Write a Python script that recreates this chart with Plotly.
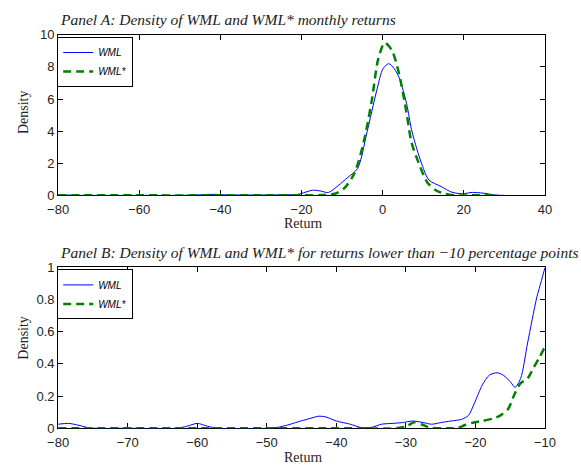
import plotly.graph_objects as go

# ---------------- Data ----------------
# Panel A: density of monthly returns
a_wml_x = [-80, -78, -75, -60, -50, -45, -42, -39, -30, -25, -21, -19, -17.3, -15.5, -13.4, -11, -8.6, -6.2, -3.9, -1.5, 0.1, 1.5,
           2.8, 4.1, 5.9, 7.1, 8.4, 9.7, 11.4, 14.4, 17, 19.6, 22.1, 24.7, 27.3, 29, 30]
a_wml_y = [0.02, 0.02, 0.0, 0.0, 0.0, 0.03, 0.06, 0.03, 0.02, 0.03, 0.06, 0.2, 0.32, 0.28, 0.18, 0.6, 1.12, 1.67, 3.9, 6.5, 7.9, 8.2,
           7.9, 7.3, 5.7, 4.1, 2.9, 1.9, 0.95, 0.55, 0.2, 0.1, 0.18, 0.14, 0.04, 0.0, 0.0]

a_star_x = [-80, -60, -45, -42, -39, -30, -20, -15, -11.8, -9.4, -7.0, -4.7, -2.7, -1.1, 0.47, 1.5, 2.5, 4.1, 5.9, 7.1, 8.9, 11,
            13.2, 15.3, 17.9, 22, 28]
a_star_y = [0.0, 0.0, 0.0, 0.02, 0.0, 0.0, 0.0, 0.02, 0.1, 0.46, 1.36, 3.3, 5.9, 8.5, 9.5, 9.3, 8.9, 7.5, 5.1, 3.3, 2.0, 0.8,
            0.3, 0.1, 0.0, 0.0, 0.0]

# Panel B: density for returns lower than -10 percentage points
b_wml_x = [-80, -78.5, -77, -75.5, -70, -63, -61.5, -60, -58.5, -57, -50, -48.5, -47, -45.5, -44, -42.5, -41.5, -40, -38,
           -36.5, -35, -33.5, -32, -30.5, -29, -27.5, -26.3, -25, -23.5, -22, -21, -20.2, -19, -18, -16.9, -16, -15, -14.3,
           -13.5, -12.5, -11.2, -10.5, -10]
b_wml_y = [0.025, 0.03, 0.018, 0.002, 0.0, 0.0, 0.012, 0.03, 0.012, 0.0, 0.0, 0.005, 0.02, 0.04, 0.058, 0.075, 0.07, 0.045, 0.025,
           0.005, 0.005, 0.025, 0.03, 0.035, 0.045, 0.035, 0.025, 0.035, 0.045, 0.055, 0.08, 0.15, 0.27, 0.33, 0.345, 0.33, 0.29,
           0.255, 0.31, 0.53, 0.81, 0.92, 1.0]

b_star_x = [-80, -60, -40, -31.5, -30, -28.8, -27.5, -26.5, -24, -22.7, -21.5, -20.4, -19, -17.5, -16.4, -15.3, -14.4, -13.5,
            -12.5, -11.6, -10.8, -10.2, -10]
b_star_y = [0.0, 0.0, 0.0, 0.0, 0.01, 0.037, 0.02, 0.003, 0.0, 0.0, 0.02, 0.034, 0.045, 0.06, 0.08, 0.12, 0.21, 0.28,
            0.31, 0.38, 0.44, 0.49, 0.5]

series_names = ["WML", "WML*"]
a_xticks = [-80, -60, -40, -20, 0, 20, 40]
a_yticks = [0, 2, 4, 6, 8, 10]
b_xticks = [-80, -70, -60, -50, -40, -30, -20, -10]
b_yticks = [0, 0.2, 0.4, 0.6, 0.8, 1]

title_a = "Panel A: Density of WML and WML* monthly returns"
title_b = "Panel B: Density of WML and WML* for returns lower than \u221210 percentage points"

# ---------------- Figure ----------------
W, H = 581, 474
BLUE = "#0000ff"
GREEN = "#008000"
SERIF = "Liberation Serif"
SANS = "Liberation Sans"
DASH = "8px,5px"

fig = go.Figure()
fig.add_trace(go.Scatter(x=a_wml_x, y=a_wml_y, mode="lines", name=series_names[0],
                         line=dict(color=BLUE, width=1, shape="spline", smoothing=0.8),
                         xaxis="x", yaxis="y", legend="legend"))
fig.add_trace(go.Scatter(x=a_star_x, y=a_star_y, mode="lines", name=series_names[1],
                         line=dict(color=GREEN, width=2.5, dash=DASH, shape="spline", smoothing=0.8),
                         xaxis="x", yaxis="y", legend="legend"))
fig.add_trace(go.Scatter(x=b_wml_x, y=b_wml_y, mode="lines", name=series_names[0],
                         line=dict(color=BLUE, width=1, shape="spline", smoothing=0.8),
                         xaxis="x2", yaxis="y2", legend="legend2"))
fig.add_trace(go.Scatter(x=b_star_x, y=b_star_y, mode="lines", name=series_names[1],
                         line=dict(color=GREEN, width=2.5, dash=DASH, shape="spline", smoothing=0.8),
                         xaxis="x2", yaxis="y2", legend="legend2"))

xd = [49 / W, 555 / W]
ya = [1 - 194.5 / H, 1 - 28.7 / H]
yb = [1 - 435 / H, 1 - 269 / H]

axis_common = dict(showline=True, linecolor="black", linewidth=1, mirror="ticks",
                   ticks="inside", ticklen=5, tickcolor="black", tickwidth=1,
                   showgrid=False, zeroline=False, layer="below traces",
                   tickfont=dict(family=SANS, size=13, color="#222"))

legend_common = dict(bgcolor="white", bordercolor="black", borderwidth=1,
                     font=dict(family=SANS, size=10, color="black", style="italic"),
                     xanchor="left", yanchor="top", tracegroupgap=0,
                     itemwidth=30)

fig.update_layout(
    width=W, height=H,
    margin=dict(l=0, r=0, t=0, b=0),
    paper_bgcolor="white", plot_bgcolor="white",
    xaxis=dict(domain=xd, range=[-80, 40], tickvals=a_xticks, anchor="y", ticklabelstandoff=2, **axis_common),
    yaxis=dict(domain=ya, range=[0, 10], tickvals=a_yticks, anchor="x", **axis_common),
    xaxis2=dict(domain=xd, range=[-80, -10], tickvals=b_xticks, anchor="y2", ticklabelstandoff=2, **axis_common),
    yaxis2=dict(domain=yb, range=[0, 1], tickvals=b_yticks, anchor="x2", **axis_common),
    legend=dict(x=48 / W, y=1 - 31 / H, **legend_common),
    legend2=dict(x=48 / W, y=1 - 271 / H, **legend_common),
    showlegend=True,
)

annos = [
    dict(text="<i>" + title_a + "</i>", x=49 / W, y=1 - 12.5 / H, xanchor="left", yanchor="middle",
         font=dict(family=SERIF, size=15.5, color="#222")),
    dict(text="<i>" + title_b + "</i>", x=49 / W, y=1 - 254 / H, xanchor="left", yanchor="middle",
         font=dict(family=SERIF, size=15.5, color="#222")),
    dict(text="Return", x=303 / W, y=1 - 224 / H, xanchor="center", yanchor="middle",
         font=dict(family=SERIF, size=14, color="#222")),
    dict(text="Return", x=303 / W, y=1 - 465 / H, xanchor="center", yanchor="middle",
         font=dict(family=SERIF, size=14, color="#222")),
    dict(text="Density", x=13 / W, y=1 - 109 / H, xanchor="center", yanchor="middle", textangle=-90,
         font=dict(family=SERIF, size=14, color="#222")),
    dict(text="Density", x=13 / W, y=1 - 342 / H, xanchor="center", yanchor="middle", textangle=-90,
         font=dict(family=SERIF, size=14, color="#222")),
]
for a in annos:
    a.update(xref="paper", yref="paper", showarrow=False)
fig.update_layout(annotations=annos)

fig.write_html("out.html")
